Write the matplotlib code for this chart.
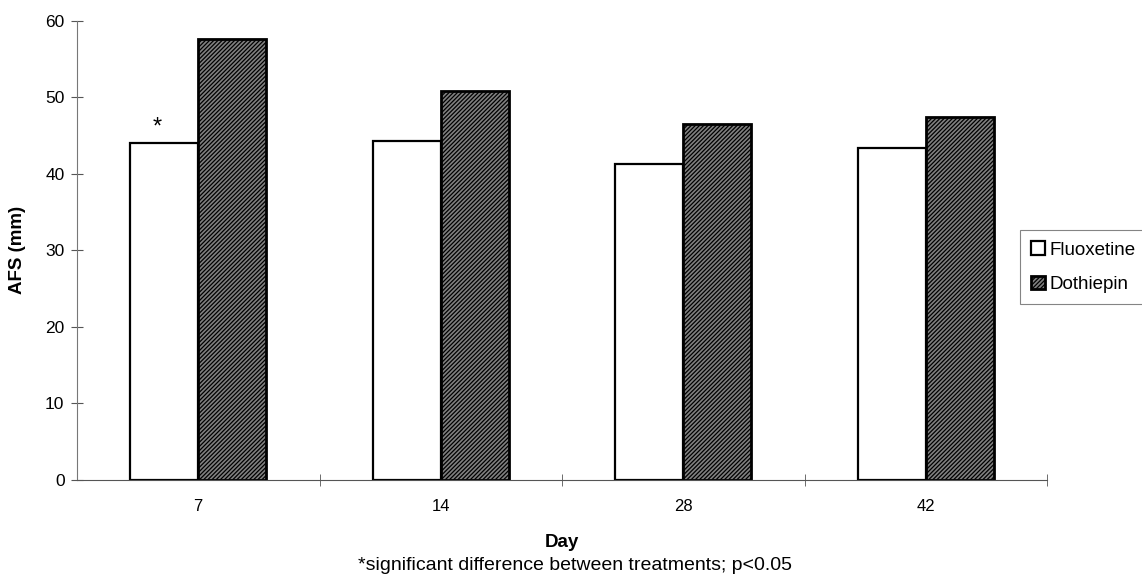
from matplotlib import pyplot as plt
import numpy as np

plt.rcParams['font.family'] = ['Liberation Sans', 'DejaVu Sans']
plt.rcParams['hatch.linewidth'] = 0.9

# AFS (mm) by day
days = ['7', '14', '28', '42']
fluoxetine = [44.0, 44.3, 41.3, 43.4]
dothiepin = [57.6, 50.8, 46.5, 47.4]

x = np.arange(len(days))
width = 0.28

fig = plt.figure(figsize=(11.42, 5.87), dpi=100)
ax = fig.add_axes([77 / 1142, 1 - 480 / 587, 970 / 1142, 459.3 / 587])

ax.bar(x - width / 2, fluoxetine, width=width, color='white',
       edgecolor='black', linewidth=1.6, label='Fluoxetine')
ax.bar(x + width / 2, dothiepin, width=width, color='#808080',
       edgecolor='black', linewidth=2.0, hatch='////////', label='Dothiepin')

# significance marker on day 7
ax.text(x[0] - width / 2 - 0.03, fluoxetine[0] + 0.6, '*', ha='center',
        va='bottom', fontsize=17)

ax.set_xlim(-0.5, 3.5)
ax.set_ylim(0, 60)
ax.set_yticks(np.arange(0, 61, 10))
ax.set_xticks(x)
ax.set_xticklabels(days)
ax.set_xticks(np.arange(0.5, 4, 1), minor=True)
ax.tick_params(axis='x', which='major', length=0, pad=14, labelsize=12)
ax.tick_params(axis='x', which='minor', direction='inout', length=9,
               color='#555555')
ax.tick_params(axis='y', direction='inout', length=8, color='#555555',
               labelsize=12.5, pad=5)

for s in ['top', 'right']:
    ax.spines[s].set_visible(False)
ax.spines['left'].set_color('#777777')
ax.spines['bottom'].set_color('#555555')
ax.spines['left'].set_linewidth(0.8)
ax.spines['bottom'].set_linewidth(0.8)

ax.set_ylabel('AFS (mm)', fontsize=13.5, fontweight='bold', labelpad=14)
ax.set_xlabel('Day', fontsize=13.5, fontweight='bold', labelpad=14)

fig.text(575 / 1142, 1 - 566 / 587,
         '*significant difference between treatments; p<0.05',
         ha='center', va='center', fontsize=14)

# legend box runs off the right edge, as in the scan
leg = fig.legend(loc='upper left',
                 bbox_to_anchor=(1020 / 1142, 1 - 310 / 587, 0.2, 80 / 587),
                 mode='expand', borderaxespad=0, fontsize=13.5,
                 handlelength=0.75, handleheight=0.75, handletextpad=0.2,
                 labelspacing=0.9, fancybox=False, edgecolor='#666666',
                 borderpad=0.6)
leg.get_frame().set_linewidth(0.8)

plt.savefig('out.png')
